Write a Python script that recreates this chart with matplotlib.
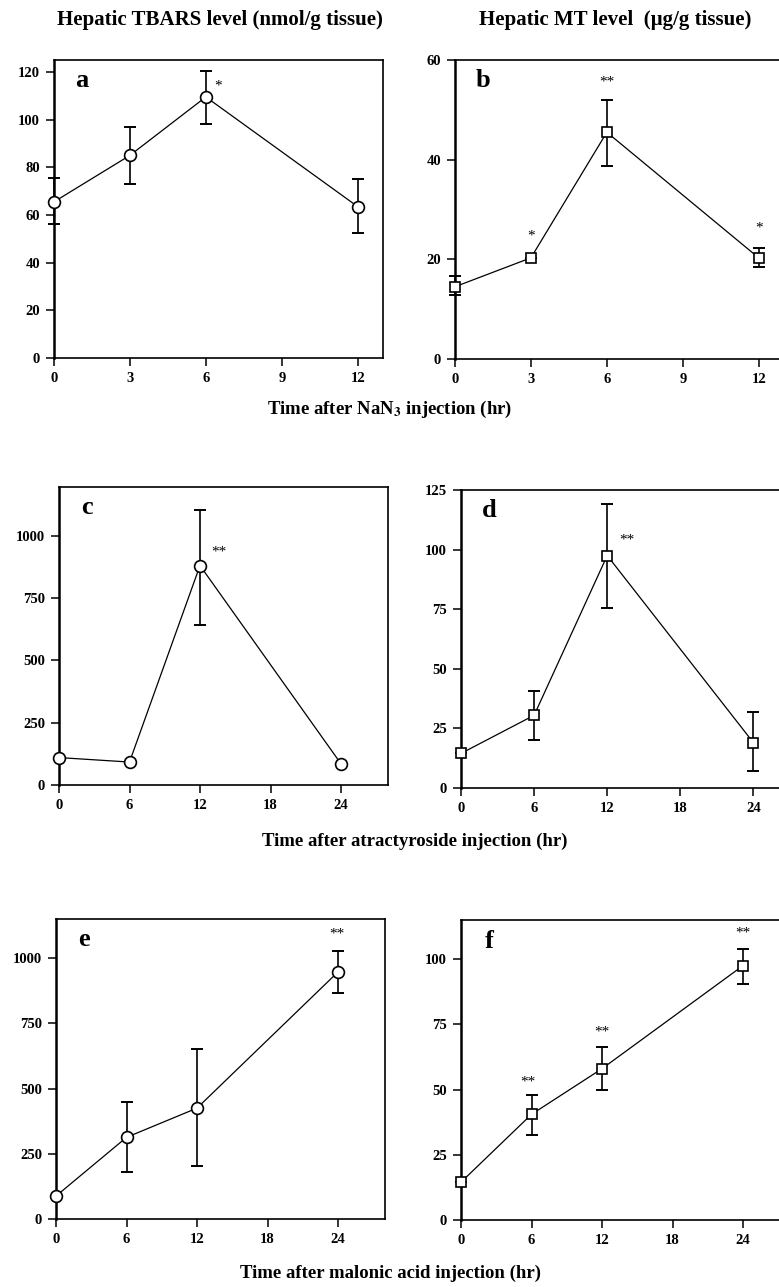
import matplotlib
matplotlib.use('Agg')
import matplotlib.pyplot as plt

plt.rcParams['font.family'] = ['Liberation Serif', 'DejaVu Serif']
plt.rcParams['mathtext.fontset'] = 'stix'

# --- data ---
# NaN3 (hr)
t_nan3 = [0, 3, 6, 12]
tbars_nan3 = [65.5, 85, 109.5, 63.5]
tbars_nan3_hi = [75.5, 97, 120.5, 75]
tbars_nan3_lo = [56, 73, 98, 52.5]
mt_nan3 = [14.5, 20.3, 45.5, 20.3]
mt_nan3_hi = [16.7, 20.3, 52, 22.2]
mt_nan3_lo = [12.8, 20.3, 38.8, 18.5]

# atractyroside (hr)
t_atr = [0, 6, 12, 24]
tbars_atr = [110, 92, 880, 85]
tbars_atr_hi = [110, 92, 1103, 85]
tbars_atr_lo = [110, 92, 642, 85]
mt_atr = [14.5, 30.5, 97.5, 19]
mt_atr_hi = [14.5, 40.5, 119, 32]
mt_atr_lo = [14.5, 20.3, 75.5, 7]

# malonic acid (hr)
t_mal = [0, 6, 12, 24]
tbars_mal = [88, 313, 425, 947]
tbars_mal_hi = [88, 447, 650, 1028]
tbars_mal_lo = [88, 180, 203, 865]
mt_mal = [14.5, 40.5, 58, 97.5]
mt_mal_hi = [14.5, 48, 66.5, 104]
mt_mal_lo = [14.5, 32.5, 50, 90.5]

W, H = 779, 1287
fig = plt.figure(figsize=(W / 100, H / 100), dpi=100)


def make_ax(left, top, right, bottom):
    return fig.add_axes([left / W, 1 - bottom / H, (right - left) / W, (bottom - top) / H])


def panel(ax, x, y, hi, lo, marker, ms, xlim, ylim, xticks, yticks, letter, stars):
    yerr = [[v - l for v, l in zip(y, lo)], [h - v for v, h in zip(y, hi)]]
    ax.errorbar(x, y, yerr=yerr, fmt='none', ecolor='black', elinewidth=1.2,
                capsize=4, capthick=1.4, zorder=2, clip_on=False)
    ax.plot(x, y, color='black', lw=0.9, marker=marker, ms=ms, mfc='white',
            mec='black', mew=1.2, zorder=3, clip_on=False)
    ax.set_xlim(*xlim)
    ax.set_ylim(*ylim)
    ax.set_xticks(xticks)
    ax.set_yticks(yticks)
    for lab in ax.get_xticklabels() + ax.get_yticklabels():
        lab.set_fontweight('bold')
        lab.set_fontsize(10.5)
    ax.tick_params(direction='out', length=6, width=1.1, pad=4)
    ax.spines['left'].set_linewidth(1.8)
    for s in ['bottom', 'top', 'right']:
        ax.spines[s].set_linewidth(1.2)
    ax.text(0.085, 0.93, letter, transform=ax.transAxes, fontsize=19,
            fontweight='bold', ha='center', va='center')
    for sx, sy, s in stars:
        ax.text(sx, sy, s, fontsize=11, ha='center', va='center')


ax_a = make_ax(54, 60, 383, 358)
panel(ax_a, t_nan3, tbars_nan3, tbars_nan3_hi, tbars_nan3_lo, 'o', 8.5,
      (0, 13), (0, 125), [0, 3, 6, 9, 12], range(0, 121, 20), 'a',
      [(6.5, 114, '*')])

ax_b = make_ax(455, 60, 784, 359)
panel(ax_b, t_nan3, mt_nan3, mt_nan3_hi, mt_nan3_lo, 's', 7.5,
      (0, 13), (0, 60), [0, 3, 6, 9, 12], [0, 20, 40, 60], 'b',
      [(3, 24.7, '*'), (6, 55.5, '**'), (12, 26.3, '*')])

ax_c = make_ax(59, 487, 388, 785)
panel(ax_c, t_atr, tbars_atr, tbars_atr_hi, tbars_atr_lo, 'o', 8.5,
      (0, 28), (0, 1195), [0, 6, 12, 18, 24], range(0, 1001, 250), 'c',
      [(13.6, 935, '**')])

ax_d = make_ax(461, 490, 790, 788)
panel(ax_d, t_atr, mt_atr, mt_atr_hi, mt_atr_lo, 's', 7.5,
      (0, 27), (0, 125), [0, 6, 12, 18, 24], range(0, 126, 25), 'd',
      [(13.6, 104, '**')])

ax_e = make_ax(56, 919, 385, 1219)
panel(ax_e, t_mal, tbars_mal, tbars_mal_hi, tbars_mal_lo, 'o', 8.5,
      (0, 28), (0, 1150), [0, 6, 12, 18, 24], range(0, 1001, 250), 'e',
      [(23.9, 1093, '**')])

ax_f = make_ax(461, 920, 790, 1220)
panel(ax_f, t_mal, mt_mal, mt_mal_hi, mt_mal_lo, 's', 7.5,
      (0, 28), (0, 115), [0, 6, 12, 18, 24], range(0, 101, 25), 'f',
      [(5.7, 53, '**'), (12, 72, '**'), (24, 110, '**')])

# titles and axis captions
fig.text(220 / W, 1 - 20 / H, 'Hepatic TBARS level (nmol/g tissue)',
         fontsize=15, fontweight='bold', ha='center', va='center')
fig.text(615 / W, 1 - 20 / H, 'Hepatic MT level  (\u00b5g/g tissue)',
         fontsize=15, fontweight='bold', ha='center', va='center')
fig.text(390 / W, 1 - 409 / H, r'Time after NaN$_\mathbf{3}$ injection (hr)',
         fontsize=13.5, fontweight='bold', ha='center', va='center')
fig.text(415 / W, 1 - 841 / H, 'Time after atractyroside injection (hr)',
         fontsize=13.5, fontweight='bold', ha='center', va='center')
fig.text(390 / W, 1 - 1273 / H, 'Time after malonic acid injection (hr)',
         fontsize=13.5, fontweight='bold', ha='center', va='center')

fig.savefig('out.png', dpi=100)
